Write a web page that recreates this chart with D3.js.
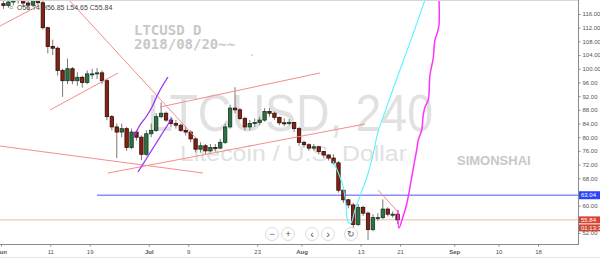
<!DOCTYPE html>
<html>
<head>
<meta charset="utf-8">
<script src="https://cdn.jsdelivr.net/npm/d3@7"></script>
<style>
body { margin: 0; background: #fff; }
svg { display: block; font-family: "Liberation Sans", Arial, sans-serif; }
</style>
</head>
<body>
<script>
var W = 600, H = 259;
var plotW = 578, plotH = 244;

// daily LTCUSD candles, Jun 1 .. Aug 20 2018
var opens = [119,118.5,119.5,121,120.5,119.2,118.6,120.4,119.3,112,
  106.5,106,99.5,96.5,100,96.5,97.5,96,98.5,98.5,
  98.8,96.5,86,83,81.5,82.5,77,81.5,80,75,
  81,82,86,87,85,84,83.5,82,81.5,79.5,
  76.5,77.5,76,77,76.8,78.5,83,88.5,88,85.5,
  83,84,84.3,85,87.5,87,85.8,84.2,84,84.3,
  82.5,78.5,77.8,76.8,77.2,75.8,74.8,73.9,72.5,64.5,
  61.7,60.2,54.5,59.5,57.8,53,56.5,56.5,59,57.5,
  57.5];
var highs = [120.5,121,122.5,123,121,120,121.5,121,120,112.3,
  108.5,106.5,100,103,100.5,99,98,99.5,100,100.2,
  99.5,97,86.5,84,84,83,82.5,82,80.5,82,
  84,87,90.2,87.5,86,85,84,83,82,80,
  78.5,78,78,78,79.5,84,89.5,94.6,88.5,86,
  85,85.5,86,88.5,88.5,87.5,86,85.5,85.3,84.5,
  83,79,78.2,78,77.5,76,75,75,73,65,
  62,60.8,60.5,60,58.3,57.5,57.8,61.8,59.5,58.3,
  58];
var lows = [117.5,117.8,118.5,119,118,117.5,118,118.5,111.5,104.5,
  104,98,91.8,95.5,95.5,95,94.5,95.5,97,97,
  95.5,85,82,73.9,80,76,76.5,79,73.3,74.5,
  80,81.5,85.5,84.5,83,82.5,81.5,80.5,78.5,75.5,
  75.5,75,75.5,75.8,76.5,78,82.5,87,85,82,
  82,83,83.5,84.5,86,85,83.5,83.2,83.5,81.5,
  77.5,77,76,76,75,74,73.2,72,63.8,60.8,
  59.2,53.5,54,57,50,52.5,55.5,56,56.8,56.5,
  54.65];
var closes = [118.5,119.5,121,120.5,119.2,118.6,120.4,119.3,112,106.5,
  106,99.5,96.5,100,96.5,97.5,96,98.5,98.5,98.8,
  96.5,86,83,81.5,82.5,77,81.5,80,75,81,
  82,86,87,85,84,83.5,82,81.5,79.5,76.5,
  77.5,76,77,76.8,78.5,83,88.5,88,85.5,83,
  84,84.3,85,87.5,87,85.8,84.2,84,84.3,82.5,
  78.5,77.8,76.8,77.2,75.8,74.8,73.9,72.5,64.5,61.7,
  60.2,54.5,59.5,57.8,53,56.5,56.5,59,57.5,57.5,
  55.84];

var tickDates = ['2018-06-01','2018-06-11','2018-06-19','2018-07-01','2018-07-09','2018-07-23',
  '2018-08-01','2018-08-13','2018-08-21','2018-09-01','2018-09-10','2018-09-18'];
var tickLabels = ['Jun','11','19','Jul','9','23','Aug','13','21','Sep','10','18'];
// 56 and 64 sit under the price tags
var priceTicks = [52,60,68,72,76,80,84,88,92,96,100,104,108,112,116];

// drawings: [days after Jun 1, price]
var redLines = [
  [[-0.2,112.49],[7.51,118.34]],
  [[13.80,120.09],[39.37,80.05]],
  [[9.95,87.95],[23.75,98.76]],
  [[-0.2,77.42],[41.00,69.53]],
  [[21.72,69.53],[73.88,83.85]],
  [[32.27,88.82],[64.74,98.76]],
  [[76.52,64.57],[80.78,57.84]]
];
var purpleCurve = [[26.99,80.05],[28.21,83.56],[29.43,85.90],[30.65,88.82],[31.86,92.62],[32.88,95.25],[33.89,97.59]];
var purpleLine = [[27.81,69.83],[34.71,85.61]];
var cyanCurve = [[67.38,73.04],[68.40,69.83],[69.41,65.74],[70.02,60.18],[70.22,56.38],[70.63,54.92],
  [71.04,54.92],[71.85,58.72],[72.86,62.81],[74.28,68.37],[75.50,74.79],[76.52,81.52],
  [77.94,87.36],[79.36,93.20],[80.98,99.63],[83.42,109.28],[86.06,120.09],[86.66,122.43]];
var magentaCurve = [[80.58,58.72],[80.78,53.46],[81.59,56.68],[82.40,60.77],[83.01,65.44],[83.62,70.41],
  [84.37,76.26],[84.70,79.18],[85.39,82.10],[85.71,86.48],[86.06,88.82],[86.72,90.87],
  [87.07,98.17],[87.74,103.14],[88.08,108.40],[88.55,110.45],[88.90,112.78],[88.90,120.67]];
var supportLevel = { from: 19.48, price: 63.04 };
var lastPrice = 55.84;
var orangeDot = [50.94, 104.02];

var start = Date.UTC(2018, 5, 1);
function day(d) { return new Date(start + d * 864e5); }

var x = d3.scaleUtc().domain([day(0), day(109)]).range([1, 538]);
var y = d3.scaleLinear().domain([48.79, 120.09]).range([plotH, 0]);

var svg = d3.select('body').append('svg')
  .attr('width', W).attr('height', H);

svg.append('rect').attr('width', W).attr('height', H).attr('fill', '#fff');

svg.append('defs').append('clipPath').attr('id', 'plot')
  .append('rect').attr('width', plotW).attr('height', plotH);

var plot = svg.append('g').attr('clip-path', 'url(#plot)');

// watermarks
plot.append('text').attr('x', 147).attr('y', 131)
  .attr('font-size', 52).attr('fill', '#e1e1e1')
  .attr('textLength', 286).attr('lengthAdjust', 'spacingAndGlyphs')
  .text('LTCUSD, 240');
plot.append('text').attr('x', 180).attr('y', 161)
  .attr('font-size', 22).attr('fill', '#e1e1e1')
  .attr('textLength', 227).attr('lengthAdjust', 'spacingAndGlyphs')
  .text('Litecoin / U.S. Dollar');
var note = plot.append('text')
  .attr('font-family', '"DejaVu Sans Mono", monospace').attr('font-weight', 'bold')
  .attr('font-size', 14).attr('fill', '#c8c8c8');
note.append('tspan').attr('x', 134).attr('y', 35).text('LTCUSD D');
note.append('tspan').attr('x', 134).attr('y', 49).text('2018/08/20~~');
plot.append('text').attr('x', 457).attr('y', 165)
  .attr('font-weight', 'bold').attr('font-size', 13).attr('fill', '#c8c8c8')
  .text('SIMONSHAI');

// horizontal levels
plot.append('line')
  .attr('x1', 0).attr('x2', plotW)
  .attr('y1', y(lastPrice)).attr('y2', y(lastPrice))
  .attr('stroke', '#f3b9b0').attr('stroke-width', 1);
plot.append('line')
  .attr('x1', x(day(supportLevel.from))).attr('x2', plotW)
  .attr('y1', y(supportLevel.price)).attr('y2', y(supportLevel.price))
  .attr('stroke', '#8c8cff').attr('stroke-width', 1.5);

// candles
var candles = closes.map(function(c, i) {
  return { t: day(i + 0.5), o: opens[i], h: highs[i], l: lows[i], c: c };
});
var bw = 3.4;
var cg = plot.selectAll('g.candle').data(candles).enter().append('g').attr('class', 'candle');
cg.append('line')
  .attr('x1', function(d) { return x(d.t); }).attr('x2', function(d) { return x(d.t); })
  .attr('y1', function(d) { return y(d.h); }).attr('y2', function(d) { return y(d.l); })
  .attr('stroke', '#7a7a7a').attr('stroke-width', 1);
cg.append('rect')
  .attr('x', function(d) { return x(d.t) - bw / 2; })
  .attr('width', bw)
  .attr('y', function(d) { return y(Math.max(d.o, d.c)); })
  .attr('height', function(d) { return Math.max(1, Math.abs(y(d.o) - y(d.c))); })
  .attr('fill', function(d) { return d.c >= d.o ? '#2a7444' : '#862214'; })
  .attr('stroke', function(d) { return d.c >= d.o ? '#143a22' : '#340904'; })
  .attr('stroke-width', 0.8);

// drawings
var line = d3.line()
  .x(function(d) { return x(day(d[0])); })
  .y(function(d) { return y(d[1]); });
var curve = d3.line().curve(d3.curveCatmullRom)
  .x(function(d) { return x(day(d[0])); })
  .y(function(d) { return y(d[1]); });

plot.selectAll('path.trend').data(redLines).enter().append('path')
  .attr('class', 'trend').attr('d', line)
  .attr('fill', 'none').attr('stroke', '#f58c8c').attr('stroke-width', 1);
plot.append('path').attr('d', curve(purpleCurve))
  .attr('fill', 'none').attr('stroke', '#9b30ff').attr('stroke-width', 1.3);
plot.append('path').attr('d', line(purpleLine))
  .attr('fill', 'none').attr('stroke', '#9b30ff').attr('stroke-width', 1.3);
plot.append('path').attr('d', curve(cyanCurve))
  .attr('fill', 'none').attr('stroke', '#5cf2ff').attr('stroke-width', 1.1);
plot.append('path').attr('d', curve(magentaCurve))
  .attr('fill', 'none').attr('stroke', '#ff33ff').attr('stroke-width', 1.5);
plot.append('circle')
  .attr('cx', x(day(orangeDot[0]))).attr('cy', y(orangeDot[1])).attr('r', 0.8)
  .attr('fill', '#f0a040');

// OHLC legend
plot.append('text').attr('x', 9).attr('y', 9.5)
  .attr('font-size', 7).attr('fill', '#888').text('≡');
plot.append('text').attr('x', 17).attr('y', 9.5)
  .attr('font-size', 7).attr('fill', '#444')
  .text('O56.74 H56.85 L54.65 C55.84');

// frame lines
svg.append('line').attr('x1', 0).attr('x2', plotW).attr('y1', 0.5).attr('y2', 0.5)
  .attr('stroke', '#d6d6d6');
svg.append('line').attr('x1', 0).attr('x2', plotW).attr('y1', plotH + 0.5).attr('y2', plotH + 0.5)
  .attr('stroke', '#8a8a8a');
svg.append('line').attr('x1', plotW + 0.5).attr('x2', plotW + 0.5).attr('y1', 0).attr('y2', plotH + 1)
  .attr('stroke', '#8a8a8a');
svg.append('line').attr('x1', 0).attr('x2', W).attr('y1', 257.5).attr('y2', 257.5)
  .attr('stroke', '#e4e4e4');

// x axis
var xAxis = d3.axisBottom(x)
  .tickValues(tickDates.map(function(s) { return new Date(s + 'T00:00:00Z'); }))
  .tickFormat(function(d, i) { return tickLabels[i]; })
  .tickSize(2).tickSizeOuter(0).tickPadding(3);
var gx = svg.append('g').attr('transform', 'translate(0,' + (plotH + 0.5) + ')').call(xAxis);
gx.select('.domain').remove();
gx.selectAll('line').attr('stroke', '#8a8a8a');
gx.selectAll('text').attr('font-size', 6).attr('fill', '#555')
  .attr('font-family', '"Liberation Sans", Arial, sans-serif')
  .attr('font-weight', function(d, i) { return isNaN(+tickLabels[i]) ? 'bold' : 'normal'; });

// y axis
var yAxis = d3.axisRight(y).tickValues(priceTicks)
  .tickFormat(d3.format('.2f')).tickSize(2).tickSizeOuter(0).tickPadding(2);
var gy = svg.append('g').attr('transform', 'translate(' + (plotW + 0.5) + ',0)').call(yAxis);
gy.select('.domain').remove();
gy.selectAll('line').attr('stroke', '#8a8a8a');
gy.selectAll('text').attr('font-size', 6).attr('fill', '#555')
  .attr('font-family', '"Liberation Sans", Arial, sans-serif');

// price tags
function tag(cy, h, fill, label) {
  svg.append('rect').attr('x', plotW + 1).attr('y', cy - h / 2).attr('width', W - plotW - 1).attr('height', h)
    .attr('fill', fill);
  svg.append('text').attr('x', plotW + 3).attr('y', cy).attr('dy', '0.35em')
    .attr('font-size', 6).attr('fill', '#fff').text(label);
}
tag(y(supportLevel.price), 8, '#2b45ff', d3.format('.2f')(supportLevel.price));
tag(y(lastPrice), 7, '#d9442e', d3.format('.2f')(lastPrice));
tag(y(lastPrice) + 8, 7, '#d04530', '01:13:35');

// navigation buttons
var buttons = [
  { cx: 272, s: '−' }, { cx: 288, s: '+' },
  { cx: 312, s: '‹' }, { cx: 328, s: '›' }, { cx: 351, s: '↻' }
];
var bg = svg.selectAll('g.btn').data(buttons).enter().append('g').attr('class', 'btn')
  .attr('transform', function(d) { return 'translate(' + d.cx + ',234)'; });
bg.append('circle').attr('r', 6.5).attr('fill', '#fff').attr('stroke', '#dcdcdc');
bg.append('text').attr('text-anchor', 'middle').attr('dy', '0.35em')
  .attr('font-size', function(d) { return d.s === '‹' || d.s === '›' ? 11 : 9; })
  .attr('fill', '#555').text(function(d) { return d.s; });
</script>
</body>
</html>
